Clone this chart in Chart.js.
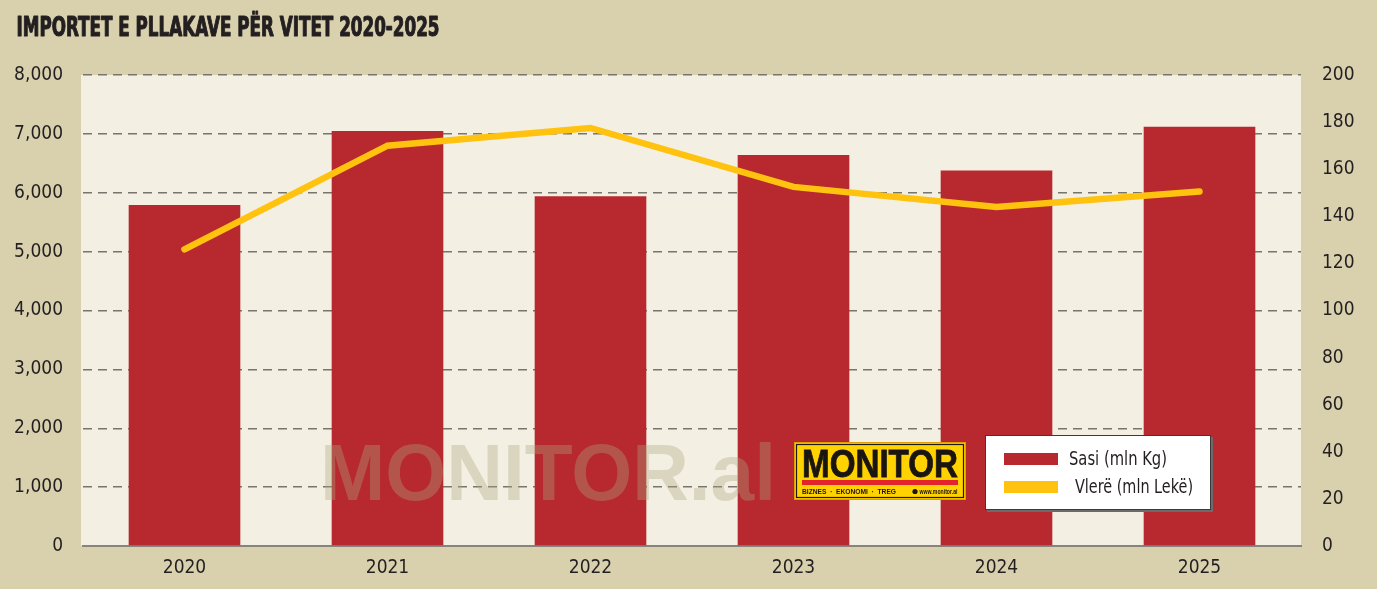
<!DOCTYPE html>
<html>
<head>
<meta charset="utf-8">
<script src="https://cdn.jsdelivr.net/npm/chart.js@4.4.1/dist/chart.umd.min.js"></script>
<style>
  html, body { margin: 0; padding: 0; background: #d9d1ae; }
  #wrap { width: 1377px; height: 589px; }
</style>
</head>
<body>
<div id="wrap"><canvas id="c" width="1377" height="589"></canvas></div>
<script>
const TITLE = 'IMPORTET E PLLAKAVE PËR VITET 2020-2025';
const categories = ['2020', '2021', '2022', '2023', '2024', '2025'];
const sasiLabel = 'Sasi (mln Kg)';
const vlereLabel = 'Vlerë (mln Lekë)';
const sasiValues = [5790, 7050, 5940, 6640, 6380, 7120];
const vlereValues = [126, 170, 177.5, 152.5, 144, 150.5];
const leftTicks = [0, 1000, 2000, 3000, 4000, 5000, 6000, 7000, 8000];
const rightTicks = [0, 20, 40, 60, 80, 100, 120, 140, 160, 180, 200];

const BG = '#d9d1ae';
const PLOT_BG = '#f3f0e3';
const RED = '#b7282f';
const YELLOW = '#ffc20e';
const TEXT = '#231f20';
const NARROW = "'DejaVu Sans Condensed', 'Liberation Sans Narrow', sans-serif";

function fitText(ctx, text, x, y, width, stroke) {
  const w = ctx.measureText(text).width;
  ctx.save();
  ctx.translate(x, y);
  ctx.scale(width / w, 1);
  ctx.fillText(text, 0, 0);
  if (stroke) ctx.strokeText(text, 0, 0);
  ctx.restore();
}

const decor = {
  id: 'decor',
  beforeDraw(chart) {
    const ctx = chart.ctx, a = chart.chartArea;
    ctx.save();
    ctx.fillStyle = BG;
    ctx.fillRect(0, 0, chart.width, chart.height);
    ctx.fillStyle = PLOT_BG;
    ctx.fillRect(a.left - 2, a.top, a.right - a.left + 2, a.bottom - a.top);
    // title
    ctx.fillStyle = TEXT;
    ctx.strokeStyle = TEXT;
    ctx.lineWidth = 1.1;
    ctx.lineJoin = 'round';
    ctx.font = "bold 26px " + NARROW;
    ctx.textBaseline = 'alphabetic';
    fitText(ctx, TITLE, 16.5, 36, 423, true);
    ctx.restore();
  },
  afterDatasetsDraw(chart) {
    const ctx = chart.ctx;
    ctx.save();
    // watermark
    ctx.fillStyle = 'rgba(175,165,125,0.36)';
    ctx.font = "bold 80px 'Liberation Sans', Arial, sans-serif";
    ctx.textBaseline = 'alphabetic';
    fitText(ctx, 'MONITOR.al', 320, 500, 456);

    // logo
    ctx.fillStyle = '#ffd200';
    ctx.fillRect(795, 443, 170, 56);
    ctx.strokeStyle = '#e0a000';
    ctx.lineWidth = 1;
    ctx.strokeRect(794.5, 442.5, 171, 57);
    ctx.strokeStyle = '#1a1a1a';
    ctx.lineWidth = 1.2;
    ctx.strokeRect(796.5, 444.5, 167, 53);
    ctx.fillStyle = '#1a1510';
    ctx.strokeStyle = '#1a1510';
    ctx.lineWidth = 0.8;
    ctx.font = "bold 39px 'Liberation Sans', Arial, sans-serif";
    fitText(ctx, 'MONITOR', 802, 477, 156, true);
    ctx.fillStyle = '#e3242b';
    ctx.fillRect(802, 480, 156, 5);
    ctx.fillStyle = '#1a1510';
    ctx.font = "bold 8px 'Liberation Sans', Arial, sans-serif";
    fitText(ctx, 'BIZNES  ·  EKONOMI  ·  TREG', 802, 494, 94);
    ctx.beginPath();
    ctx.arc(915, 491.5, 2.6, 0, Math.PI * 2);
    ctx.fill();
    ctx.font = "bold 6.5px 'Liberation Sans', Arial, sans-serif";
    fitText(ctx, 'www.monitor.al', 919.5, 494, 38);

    // legend box
    ctx.fillStyle = '#6b6b6b';
    ctx.fillRect(987, 437, 226, 75);
    ctx.fillStyle = '#ffffff';
    ctx.fillRect(985, 435, 226, 75);
    ctx.strokeStyle = '#3a3a3a';
    ctx.lineWidth = 1;
    ctx.strokeRect(985.5, 435.5, 225, 74);
    const ds = chart.data.datasets;
    const items = [
      { color: ds[0].backgroundColor, label: ds[0].label, y: 453, base: 465, x: 1069, w: 98 },
      { color: ds[1].borderColor, label: ds[1].label, y: 481, base: 493, x: 1075, w: 118 }
    ];
    ctx.font = "20px " + NARROW;
    for (const it of items) {
      ctx.fillStyle = it.color;
      ctx.fillRect(1004, it.y, 54, 12);
      ctx.fillStyle = TEXT;
      fitText(ctx, it.label, it.x, it.base, it.w);
    }
    ctx.restore();
  }
};

new Chart(document.getElementById('c'), {
  data: {
    labels: categories,
    datasets: [
      {
        type: 'bar',
        label: sasiLabel,
        data: sasiValues,
        backgroundColor: RED,
        borderWidth: 0,
        barPercentage: 0.55,
        categoryPercentage: 1,
        yAxisID: 'y',
        order: 2
      },
      {
        type: 'line',
        label: vlereLabel,
        data: vlereValues,
        borderColor: YELLOW,
        backgroundColor: YELLOW,
        borderWidth: 6.5,
        borderCapStyle: 'round',
        borderJoinStyle: 'miter',
        pointRadius: 0,
        tension: 0,
        yAxisID: 'y1',
        order: 1
      }
    ]
  },
  options: {
    responsive: false,
    animation: false,
    devicePixelRatio: 1,
    layout: { padding: { top: 75, left: 0, right: 0, bottom: 0 } },
    plugins: {
      legend: { display: false },
      title: { display: false },
      tooltip: { enabled: false }
    },
    scales: {
      x: {
        grid: { display: false, drawTicks: false },
        border: { display: true, color: '#86847c', width: 2 },
        ticks: { color: TEXT, font: { family: NARROW, size: 19 }, padding: 11 },
        afterFit(s) { s.height = 43; }
      },
      y: {
        position: 'left',
        min: 0, max: 8000,
        afterBuildTicks(s) { s.ticks = leftTicks.map(v => ({ value: v })); },
        grid: {
          drawTicks: false,
          color: ctx => (ctx.tick && ctx.tick.value === 0) ? 'rgba(0,0,0,0)' : '#77756e',
          lineWidth: 1.5
        },
        border: { display: false, dash: [9, 6] },
        ticks: {
          color: TEXT, font: { family: NARROW, size: 19 }, padding: 20,
          callback: v => Number(v).toLocaleString('en-US')
        },
        afterFit(s) { s.width = 83; }
      },
      y1: {
        position: 'right',
        min: 0, max: 200,
        afterBuildTicks(s) { s.ticks = rightTicks.map(v => ({ value: v })); },
        grid: { drawOnChartArea: false, drawTicks: false },
        border: { display: false },
        ticks: { color: TEXT, font: { family: NARROW, size: 19 }, padding: 21 },
        afterFit(s) { s.width = 76; }
      }
    }
  },
  plugins: [decor]
});
</script>
</body>
</html>
